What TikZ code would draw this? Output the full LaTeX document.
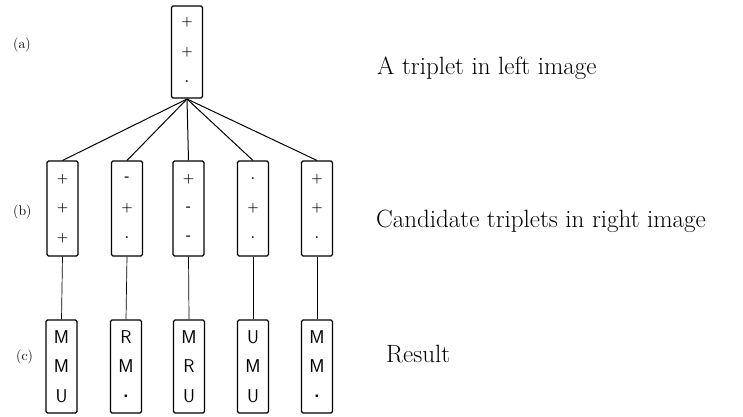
\documentclass[tikz,border=0pt]{standalone}
\usepackage{fontspec}
\tikzset{
  tbox/.style={draw, line width=1.1pt, rounded corners=1.5pt, minimum width=31pt, inner sep=0pt},
  sym/.style={font=\fontsize{13}{13}\selectfont\bfseries, inner sep=0pt},
  let/.style={font=\fontsize{18.5}{18.5}\selectfont\sffamily, inner sep=0pt},
  lab/.style={font=\fontsize{14}{14}\selectfont, anchor=base west, inner sep=0pt},
  desc/.style={font=\fontsize{25}{25}\selectfont, anchor=base west, inner sep=0pt},
  conn/.style={line width=1pt}
}
\newcommand\tripbox[8]{% name, x, y, h, style, s1, s2, s3
  \node[tbox, minimum height=#4] (#1) at (#2,#3) {};
  \node[#5] (#1-1) at (#2,{#3-29.5}) {#6};
  \node[#5] (#1-2) at (#2,#3) {#7};
  \node[#5] (#1-3) at (#2,{#3+29.5}) {#8};
}
\begin{document}
\begin{tikzpicture}[x=1pt,y=-1pt]
\useasboundingbox (0,0) rectangle (743,416);
% (a)
\tripbox{a}{187}{52}{92pt}{sym}{+}{+}{.}
% (b)
\tripbox{b1}{62.5}{208.5}{95pt}{sym}{+}{+}{+}
\tripbox{b2}{127}{208.5}{95pt}{sym}{-}{+}{.}
\tripbox{b3}{188.5}{208.5}{95pt}{sym}{+}{-}{-}
\tripbox{b4}{253}{208.5}{95pt}{sym}{.}{+}{.}
\tripbox{b5}{317}{208.5}{95pt}{sym}{+}{+}{.}
% (c)
\tripbox{c1}{61.5}{366.5}{93pt}{let}{M}{M}{U}
\tripbox{c2}{126}{366.5}{93pt}{let}{R}{M}{\textbf{.}}
\tripbox{c3}{189}{366.5}{93pt}{let}{M}{R}{U}
\tripbox{c4}{253}{366.5}{93pt}{let}{U}{M}{U}
\tripbox{c5}{317}{366.5}{93pt}{let}{M}{M}{\textbf{.}}
% connectors
\coordinate (hub) at (187,99);
\foreach \i in {1,...,5} {
  \draw[conn] (hub) -- (b\i.north);
  \draw[line width=0.7pt] (b\i.south) -- (c\i.north);
}
% labels
\node[lab] (la) at (13,48) {(a)};
\node[lab] (lb) at (13,215) {(b)};
\node[lab] (lc) at (16,360) {(c)};
\node[desc] (da) at (377,74) {A triplet in left image};
\node[desc] (db) at (376,227) {Candidate triplets in right image};
\node[desc] (dc) at (386,362) {Result};
\end{tikzpicture}
\end{document}
